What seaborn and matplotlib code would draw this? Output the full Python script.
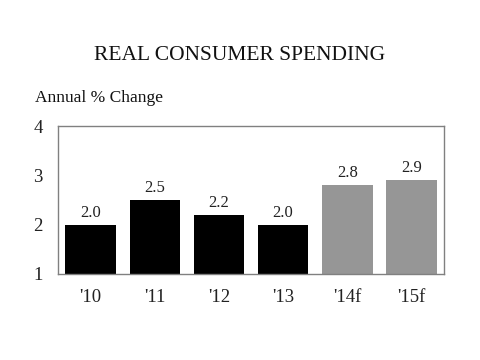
import matplotlib
matplotlib.use("Agg")
import matplotlib.pyplot as plt
import seaborn as sns
import pandas as pd

years = ["'10", "'11", "'12", "'13", "'14f", "'15f"]
values = [2.0, 2.5, 2.2, 2.0, 2.8, 2.9]
labels = ["2.0", "2.5", "2.2", "2.0", "2.8", "2.9"]
kinds = ["actual", "actual", "actual", "actual", "forecast", "forecast"]

sns.set_style("white")
plt.rcParams['font.family'] = ['Liberation Serif', 'DejaVu Serif']

df = pd.DataFrame({"year": years, "value": values, "kind": kinds})

fig = plt.figure(figsize=(4.8, 3.6), dpi=100)
ax = fig.add_axes([0.121, 0.239, 0.804, 0.411])
sns.barplot(data=df, x="year", y="value", hue="kind",
            palette={"actual": "#000000", "forecast": "#969696"},
            dodge=False, width=0.79, legend=False, ax=ax, saturation=1)
for c in ax.containers:
    for bar in c:
        bar.set_edgecolor("none")
ax.set_ylim(1, 4)
ax.set_yticks([1, 2, 3, 4])
ax.set_xlim(-0.51, 5.51)
ax.set_xlabel("")
ax.set_ylabel("")
ax.tick_params(axis="both", length=0, labelsize=13.5, colors="#222222")
ax.tick_params(axis="y", pad=11)
ax.tick_params(axis="x", pad=11)
for s in ax.spines.values():
    s.set_color("#808080")
    s.set_linewidth(1)
for i, (v, l) in enumerate(zip(values, labels)):
    ax.text(i, v + 0.08, l, ha="center", va="bottom", fontsize=12, color="#222222")

fig.text(0.5, 0.847, "REAL CONSUMER SPENDING", ha="center", va="center", fontsize=15.5, color="#111111")
fig.text(0.073, 0.727, "Annual % Change", ha="left", va="center", fontsize=12.5, color="#111111")

fig.savefig("out.png", dpi=100)
